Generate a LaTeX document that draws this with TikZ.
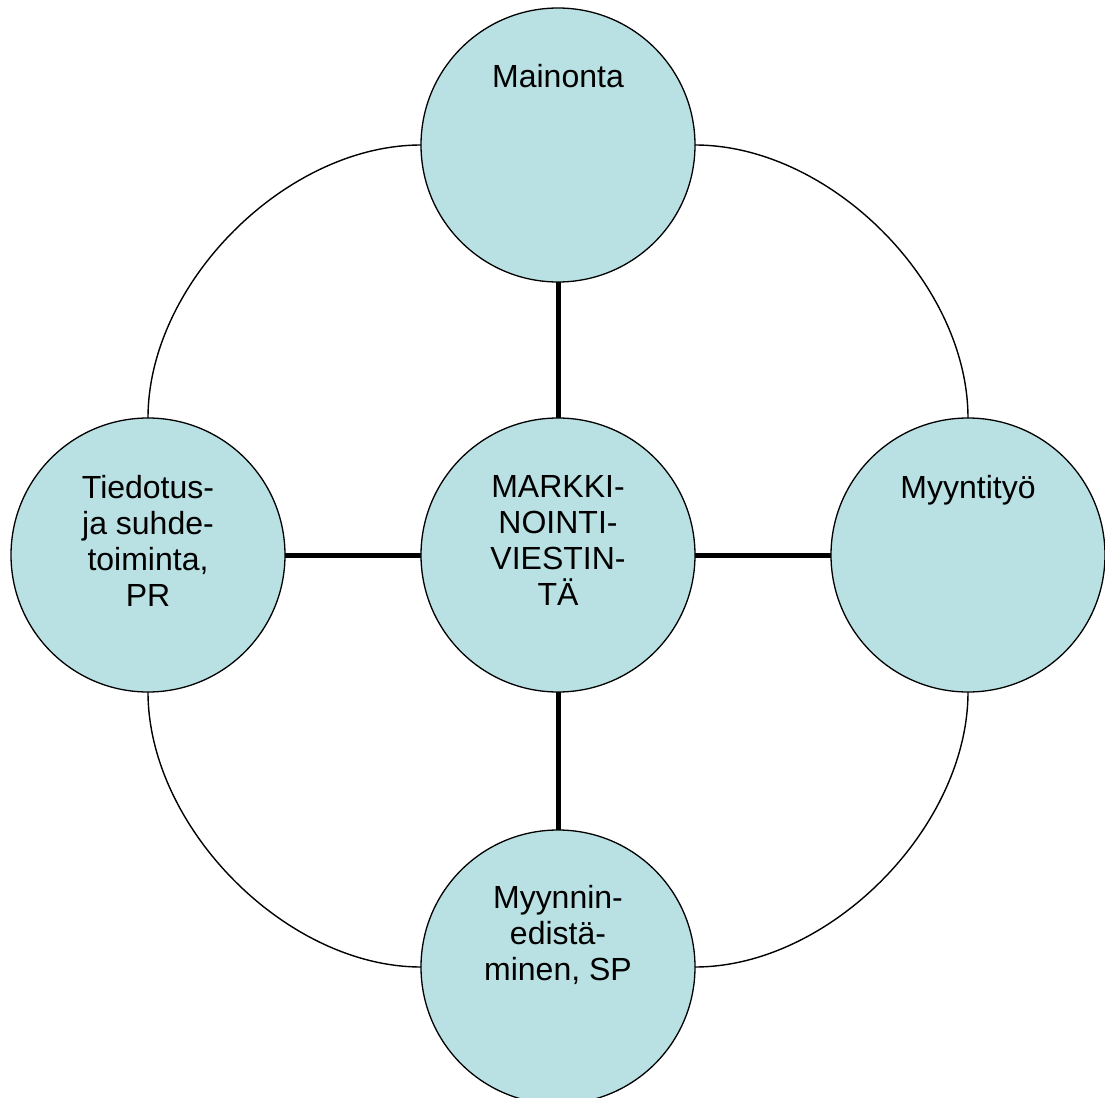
\documentclass[tikz,border=0pt]{standalone}
\usepackage{fontspec}
\setmainfont{Liberation Sans}
\definecolor{discfill}{RGB}{185,224,227}
\begin{document}
\begin{tikzpicture}[x=0.5pt,y=-0.5pt,
  disc/.style={circle, draw=black, line width=0.65pt, fill=discfill,
    minimum size=137pt, inner sep=0pt, outer sep=0pt},
  label/.style={anchor=north, inner sep=0pt, align=center,
    font=\fontsize{16pt}{18pt}\selectfont},
  link/.style={line width=2.5pt},
  ring/.style={line width=0.7pt}]
  \useasboundingbox (0,0) rectangle (1105,1098);
  \clip (0,0) rectangle (1105,1098);

  % five discs
  \node[disc] (top)    at (558,145) {};
  \node[disc] (left)   at (148,555) {};
  \node[disc] (centre) at (558,555) {};
  \node[disc] (right)  at (968,555) {};
  \node[disc] (bottom) at (558,967) {};

  % outer arcs joining the ring of discs
  \draw[ring] (top.west) .. controls +(-135,0) and +(0,-135) .. (left.north);
  \draw[ring] (top.east) .. controls +(135,0) and +(0,-135) .. (right.north);
  \draw[ring] (left.south) .. controls +(0,135) and +(-135,0) .. (bottom.west);
  \draw[ring] (right.south) .. controls +(0,135) and +(135,0) .. (bottom.east);

  % spokes from the hub
  \draw[link] (centre.north) -- (top.south);
  \draw[link] (centre.west) -- (left.east);
  \draw[link] (centre.east) -- (right.west);
  \draw[link] (centre.south) -- (bottom.north);

  % labels
  \node[label] (ttop)    at (558,64)  {Mainonta};
  \node[label] (tleft)   at (148,475) {Tiedotus-\\ja suhde-\\toiminta,\\PR};
  \node[label] (tcentre) at (558,475) {MARKKI-\\NOINTI-\\VIESTIN-\\TÄ};
  \node[label] (tright)  at (968,475) {Myyntityö};
  \node[label] (tbottom) at (558,885) {Myynnin-\\edistä-\\minen, SP};
\end{tikzpicture}
\end{document}
